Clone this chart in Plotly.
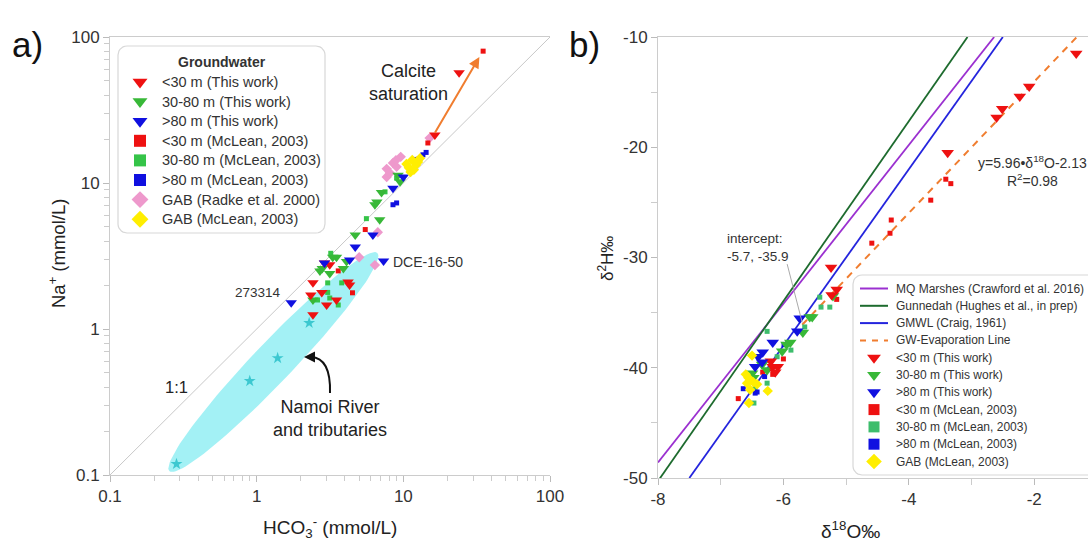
import numpy as np
import plotly.graph_objects as go

W, H = 1088, 543
FONT = "Arial, Liberation Sans, sans-serif"

# ---------------- Panel a) data: HCO3- vs Na+ (mmol/L) ----------------
a_r_tri_x = [24, 16.4, 2.42, 2.78, 2.34, 3.0, 3.5, 4.2, 2.42, 3.15, 2.9, 4.3]
a_r_tri_y = [57, 21.3, 2.07, 1.78, 1.71, 1.46, 1.58, 2.1, 1.25, 2.75, 2.83, 2.0]
a_g_tri_x = [9.2, 9.5, 7.1, 6.6, 6.4, 6.9, 4.7, 3.5, 4.1, 2.8, 2.42, 3.3, 2.7, 3.15, 3.9]
a_g_tri_y = [11.3, 10.2, 8.6, 7.4, 7.1, 5.6, 4.4, 3.1, 2.9, 2.6, 1.58, 3.1, 2.5, 2.4, 2.6]
a_b_tri_x = [8.5, 10.0, 6.2, 4.7, 4.3, 2.9, 1.72, 7.33, 12.5]
a_b_tri_y = [9.2, 11.0, 4.4, 3.65, 2.97, 2.83, 1.51, 2.92, 14.0]
a_r_sq_x = [35, 14.7, 5.5, 3.6, 4.5, 12.8]
a_r_sq_y = [80, 18.8, 4.8, 2.5, 1.77, 14.6]
a_g_sq_x = [7.5, 5.6, 3.05, 3.05, 2.6, 3.6, 3.8, 3.15, 9.0, 3.2]
a_g_sq_y = [8.7, 5.7, 2.07, 1.78, 1.58, 1.46, 2.07, 1.63, 10.8, 3.3]
a_b_sq_x = [13.6, 14.3, 12.0, 9.0, 8.5, 11.0]
a_b_sq_y = [15.6, 16.2, 14.5, 7.3, 7.1, 12.5]
a_pink_x = [15.1, 9.6, 8.5, 9.0, 7.7, 7.7, 8.1, 6.7, 5.0, 6.4, 8.9]
a_pink_y = [20.3, 15.1, 13.7, 12.9, 12.5, 11.0, 11.7, 4.6, 3.1, 2.74, 14.3]
a_yel_x = [11.5, 12.2, 10.9, 11.8, 12.6, 13.0, 11.2, 10.5]
a_yel_y = [14.4, 13.3, 12.7, 12.3, 13.9, 14.8, 11.9, 13.5]
a_river_x = [2.28, 1.39, 0.897, 0.284]
a_river_y = [1.10, 0.632, 0.44, 0.119]
one_to_one = [0.1, 100]
a_ticks = [0.1, 1, 10, 100]
a_ticktext = ["0.1", "1", "10", "100"]

# ---------------- Panel b) data: d18O vs d2H ----------------
b_r_tri_x = [-1.33, -2.08, -2.23, -2.51, -2.60, -3.38, -5.24, -5.15, -5.23, -6.20, -6.17, -6.09, -6.13]
b_r_tri_y = [-11.5, -14.5, -15.4, -16.5, -17.3, -20.5, -30.9, -32.9, -33.4, -39.4, -39.9, -39.9, -40.4]
b_g_tri_x = [-5.21, -5.58, -5.89, -6.02, -5.69, -5.54, -6.26, -6.34, -6.50, -6.48, -5.95]
b_g_tri_y = [-33.5, -35.4, -37.7, -38.5, -36.8, -35.4, -40.2, -39.7, -40.5, -40.9, -37.9]
b_b_tri_x = [-5.74, -5.78, -6.17, -6.33, -6.45, -6.34, -6.40]
b_b_tri_y = [-35.5, -36.7, -37.7, -38.6, -39.9, -39.5, -39.0]
b_r_sq_x = [-3.41, -3.33, -3.65, -4.28, -4.30, -4.59, -5.15, -6.72, -6.17, -6.33, -6.0]
b_r_sq_y = [-22.9, -23.3, -24.8, -26.6, -27.8, -28.7, -33.8, -42.8, -40.6, -40.4, -39.2]
b_g_sq_x = [-5.26, -5.42, -5.40, -5.88, -5.66, -6.26, -6.26, -6.45, -6.47, -6.1]
b_g_sq_y = [-34.5, -33.6, -34.5, -38.4, -36.3, -36.7, -41.4, -41.8, -43.2, -39.0]
b_b_sq_x = [-5.99, -6.64, -6.42, -6.45, -6.3]
b_b_sq_y = [-37.9, -41.9, -42.2, -42.3, -40.8]
b_yel_x = [-6.50, -6.56, -6.48, -6.58, -6.42, -6.53, -6.25, -6.55, -6.6]
b_yel_y = [-38.9, -40.9, -41.3, -41.4, -41.5, -42.0, -42.1, -43.2, -40.6]
b_xticks = [-8, -6, -4, -2]
b_xticktext = ["-8", "-6", "-4", "-2"]
b_yticks = [-50, -40, -30, -20, -10]
b_yticktext = ["-50", "-40", "-30", "-20", "-10"]

# water lines
line_names = ["MQ Marshes (Crawford et al. 2016)", "Gunnedah (Hughes et al., in prep)",
              "GMWL (Craig, 1961)", "GW-Evaporation Line"]
line_slopes = [7.2, 8.16, 8.0, 5.96]
line_intercepts = [9.0, 15.0, 10.0, -2.13]
line_x_start = [-8.0, -8.0, -7.5, -5.7]
line_colors = ["#9b30d0", "#1d6b2e", "#2424dd", "#f07d2f"]
line_dash = [None, None, None, "7px,6px"]

RED = "#ee1111"
GRN_T = "#38b838"
GRN_S_A = "#35c448"
GRN_S_B = "#3dbd6c"
BLU = "#1010e0"
PINK = "#ee99cc"
YEL = "#ffee00"

fig = go.Figure()

# river ellipse in log space
cx, cy = np.log10(1.30), np.log10(0.594)
a_ax, b_ax, ang = 1.03, 0.135, np.deg2rad(46.5)
t = np.linspace(0, 2 * np.pi, 120)
ex = cx + a_ax * np.cos(t) * np.cos(ang) - b_ax * np.sin(t) * np.sin(ang)
ey = cy + a_ax * np.cos(t) * np.sin(ang) + b_ax * np.sin(t) * np.cos(ang)
fig.add_trace(go.Scatter(x=10 ** ex, y=10 ** ey, mode="lines", fill="toself",
                         fillcolor="#a3f1f5", line=dict(width=0, color="#a3f1f5"),
                         showlegend=False, hoverinfo="skip", xaxis="x", yaxis="y"))
fig.add_trace(go.Scatter(x=one_to_one, y=one_to_one, mode="lines",
                         line=dict(color="#c8c8c8", width=1), showlegend=False,
                         xaxis="x", yaxis="y"))

def pts(x, y, sym, col, size, ax, ay):
    fig.add_trace(go.Scatter(x=x, y=y, mode="markers", showlegend=False,
                             marker=dict(symbol=sym, color=col, size=size, line=dict(width=0)),
                             xaxis=ax, yaxis=ay))

pts(a_river_x, a_river_y, "star", "#3cc8d0", 9, "x", "y")
pts(a_pink_x, a_pink_y, "diamond", PINK, 8, "x", "y")
pts(a_g_sq_x, a_g_sq_y, "square", GRN_S_A, 5, "x", "y")
pts(a_r_sq_x, a_r_sq_y, "square", RED, 5, "x", "y")
pts(a_b_sq_x, a_b_sq_y, "square", BLU, 5, "x", "y")
pts(a_g_tri_x, a_g_tri_y, "triangle-down", GRN_T, 10, "x", "y")
pts(a_r_tri_x, a_r_tri_y, "triangle-down", RED, 10, "x", "y")
pts(a_b_tri_x, a_b_tri_y, "triangle-down", BLU, 10, "x", "y")
pts(a_yel_x, a_yel_y, "diamond", YEL, 8, "x", "y")

for name, m, b, x0, col, dash in zip(line_names, line_slopes, line_intercepts, line_x_start, line_colors, line_dash):
    x1 = (-10 - b) / m
    xs = [x0, x1]
    ys = [m * v + b for v in xs]
    fig.add_trace(go.Scatter(x=xs, y=ys, mode="lines", name=name, showlegend=False,
                             line=dict(color=col, width=2 if dash else 1.8, dash=dash),
                             xaxis="x2", yaxis="y2"))

pts(b_g_sq_x, b_g_sq_y, "square", GRN_S_B, 5, "x2", "y2")
pts(b_r_sq_x, b_r_sq_y, "square", RED, 5, "x2", "y2")
pts(b_b_sq_x, b_b_sq_y, "square", BLU, 5, "x2", "y2")
pts(b_g_tri_x, b_g_tri_y, "triangle-down", GRN_T, 11, "x2", "y2")
pts(b_r_tri_x, b_r_tri_y, "triangle-down", RED, 11, "x2", "y2")
pts(b_b_tri_x, b_b_tri_y, "triangle-down", BLU, 11, "x2", "y2")
pts(b_yel_x, b_yel_y, "diamond", YEL, 8, "x2", "y2")

# ---------------- hand-built legends on a pixel overlay axis ----------------
def rrect_pts(x0, y0, x1, y1, r, n=8):
    xs, ys = [], []
    corners = [(x1 - r, y0 + r, -90, 0), (x1 - r, y1 - r, 0, 90),
               (x0 + r, y1 - r, 90, 180), (x0 + r, y0 + r, 180, 270)]
    for ccx, ccy, a0, a1 in corners:
        for a in np.linspace(np.deg2rad(a0), np.deg2rad(a1), n):
            xs.append(ccx + r * np.cos(a))
            ys.append(ccy + r * np.sin(a))
    xs.append(xs[0]); ys.append(ys[0])
    return xs, ys

ann = []

def legend_box(x0, y0, x1, y1):
    bx, by = rrect_pts(x0, y0, x1, y1, 9)
    fig.add_trace(go.Scatter(x=bx, y=by, mode="lines", fill="toself", fillcolor="white",
                             line=dict(color="#d8d8d8", width=1.2), showlegend=False,
                             hoverinfo="skip", xaxis="x3", yaxis="y3"))

def legend_entries(items, x_sym, x_txt, y0, dy, fsize, msize):
    for i, (label, kind, col) in enumerate(items):
        y = y0 + i * dy
        if kind in ("line", "dash"):
            fig.add_trace(go.Scatter(x=[x_sym - 14, x_sym + 14], y=[y, y], mode="lines",
                                     line=dict(color=col, width=2, dash="6px,6px" if kind == "dash" else None),
                                     showlegend=False, hoverinfo="skip", xaxis="x3", yaxis="y3"))
        else:
            fig.add_trace(go.Scatter(x=[x_sym], y=[y], mode="markers",
                                     marker=dict(symbol=kind, color=col, size=msize[kind], line=dict(width=0)),
                                     showlegend=False, hoverinfo="skip", xaxis="x3", yaxis="y3"))
        ann.append(dict(x=x_txt, y=y, xref="x3", yref="y3", text=label, showarrow=False,
                        xanchor="left", yanchor="middle",
                        font=dict(family=FONT, size=fsize, color="#333333")))

left_leg = [("<30 m (This work)", "triangle-down", RED), ("30-80 m (This work)", "triangle-down", GRN_T),
            (">80 m (This work)", "triangle-down", BLU), ("<30 m (McLean, 2003)", "square", RED),
            ("30-80 m (McLean, 2003)", "square", GRN_S_A), (">80 m (McLean, 2003)", "square", BLU),
            ("GAB (Radke et al. 2000)", "diamond", PINK), ("GAB (McLean, 2003)", "diamond", YEL)]
right_leg = [(line_names[0], "line", line_colors[0]), (line_names[1], "line", line_colors[1]),
             (line_names[2], "line", line_colors[2]), (line_names[3], "dash", line_colors[3]),
             ("<30 m (This work)", "triangle-down", RED), ("30-80 m (This work)", "triangle-down", GRN_T),
             (">80 m (This work)", "triangle-down", BLU), ("<30 m (McLean, 2003)", "square", RED),
             ("30-80 m (McLean, 2003)", "square", GRN_S_B), (">80 m (McLean, 2003)", "square", BLU),
             ("GAB (McLean, 2003)", "diamond", YEL)]

legend_box(118, 46, 325, 233)
legend_entries(left_leg, 140, 160, 82, 19.6, 14.5, {"triangle-down": 13, "square": 12, "diamond": 13})
ann.append(dict(x=222, y=62, xref="x3", yref="y3", text="<b>Groundwater</b>", showarrow=False,
                font=dict(family=FONT, size=14, color="#333333")))
legend_box(853, 275, 1100, 475)
legend_entries(right_leg, 874, 894, 288.5, 17.3, 12, {"triangle-down": 12, "square": 11, "diamond": 12})

AX = dict(showline=True, linecolor="#cccccc", linewidth=1, showgrid=False,
          zeroline=False, ticks="outside", tickcolor="#bbbbbb", ticklen=6,
          tickfont=dict(family=FONT, size=17, color="#333333"), automargin=False)

minor_log = [m * 10.0 ** e for e in (-1, 0, 1) for m in range(2, 10)]

fig.update_layout(
    width=W, height=H, margin=dict(l=0, r=0, t=0, b=0),
    paper_bgcolor="white", plot_bgcolor="rgba(0,0,0,0)", showlegend=False,
    font=dict(family=FONT, color="#222222"),
    xaxis=dict(AX, type="log", range=[-1, 2], domain=[110 / W, 550 / W], mirror=True,
               tickvals=a_ticks, ticktext=a_ticktext,
               minor=dict(tickmode="array", tickvals=minor_log, ticks="outside", ticklen=5, tickcolor="#cccccc"),
               anchor="y"),
    yaxis=dict(AX, type="log", range=[-1, 2], domain=[1 - 475 / H, 1 - 37 / H],
               tickvals=a_ticks, ticktext=a_ticktext,
               minor=dict(tickmode="array", tickvals=minor_log, ticks="outside", ticklen=5, tickcolor="#cccccc"),
               anchor="x"),
    xaxis2=dict(AX, range=[-8, -1.142], domain=[658 / W, 1.0], tickvals=b_xticks, ticktext=b_xticktext, mirror=True,
                minor=dict(tickmode="array", tickvals=[-7, -5, -3], ticks="outside", ticklen=6, tickcolor="#cccccc"),
                anchor="y2"),
    yaxis2=dict(AX, range=[-50, -10], domain=[1 - 478 / H, 1 - 37 / H], tickvals=b_yticks, ticktext=b_yticktext,
                minor=dict(tickmode="array", tickvals=[-45, -35, -25, -15], ticks="outside", ticklen=6, tickcolor="#cccccc"),
                anchor="x2"),
    xaxis3=dict(domain=[0, 1], range=[0, W], visible=False, fixedrange=True, anchor="y3"),
    yaxis3=dict(domain=[0, 1], range=[H, 0], visible=False, fixedrange=True, anchor="x3"),
)

# curved black arrow (Namoi)
fig.add_shape(type="path", xref="paper", yref="paper",
              path=f"M {330/W},{1-393/H} Q {331/W},{1-358/H} {311/W},{1-357/H}",
              line=dict(color="#111111", width=2))
# intercept leader line
fig.add_shape(type="line", xref="x2", yref="y2", x0=-5.94, y0=-30.6, x1=-5.7, y1=-35.9,
              line=dict(color="#aaaaaa", width=1))

def txt(x, y, s, size=15, align="center", xanchor="center", color="#222222"):
    ann.append(dict(x=x / W, y=1 - y / H, xref="paper", yref="paper", text=s, showarrow=False, align=align,
                    xanchor=xanchor, yanchor="middle", font=dict(family=FONT, size=size, color=color)))

txt(27, 44, "a)", size=35, color="#111111")
txt(584, 44, "b)", size=35, color="#111111")
txt(408, 83, "Calcite<br>saturation", size=18)
txt(330, 418, "Namoi River<br>and tributaries", size=18)
txt(176, 387, "1:1", size=16.5)
txt(283, 292, "273314", size=13.5, xanchor="right", color="#333333")
txt(391, 262, "DCE-16-50", size=14, xanchor="left", color="#333333")
txt(330, 527, "HCO<sub>3</sub><sup>-</sup> (mmol/L)", size=19)
txt(850, 530, "δ<sup>18</sup>O‰", size=19)
txt(725, 247, "intercept:<br>-5.7, -35.9", size=13.5, align="left", xanchor="left", color="#333333")
txt(1032, 171, "y=5.96•δ<sup>18</sup>O-2.13<br>R<sup>2</sup>=0.98", size=14, color="#333333")
ann.append(dict(x=43 / W, y=1 - 254 / H, xref="paper", yref="paper", text="Na<sup>+</sup> (mmol/L)",
                textangle=-90, showarrow=False, font=dict(family=FONT, size=18.5, color="#222222")))
ann.append(dict(x=606 / W, y=1 - 259 / H, xref="paper", yref="paper", text="δ<sup>2</sup>H‰",
                textangle=-90, showarrow=False, font=dict(family=FONT, size=17, color="#222222")))
# arrowheads
ann.append(dict(x=304 / W, y=1 - 357 / H, xref="paper", yref="paper", ax=12, ay=0, text="",
                showarrow=True, arrowhead=2, arrowsize=1.1, arrowwidth=2, arrowcolor="#111111"))
ann.append(dict(x=np.log10(33), y=np.log10(73), xref="x", yref="y", axref="x", ayref="y",
                ax=np.log10(16.2), ay=np.log10(21.6), text="", showarrow=True, arrowhead=2,
                arrowsize=1.1, arrowwidth=2, arrowcolor="#f07d2f"))
fig.update_layout(annotations=ann)

fig.write_html("out.html", config={"displayModeBar": False},
               post_script="document.body.style.margin='0px';")
